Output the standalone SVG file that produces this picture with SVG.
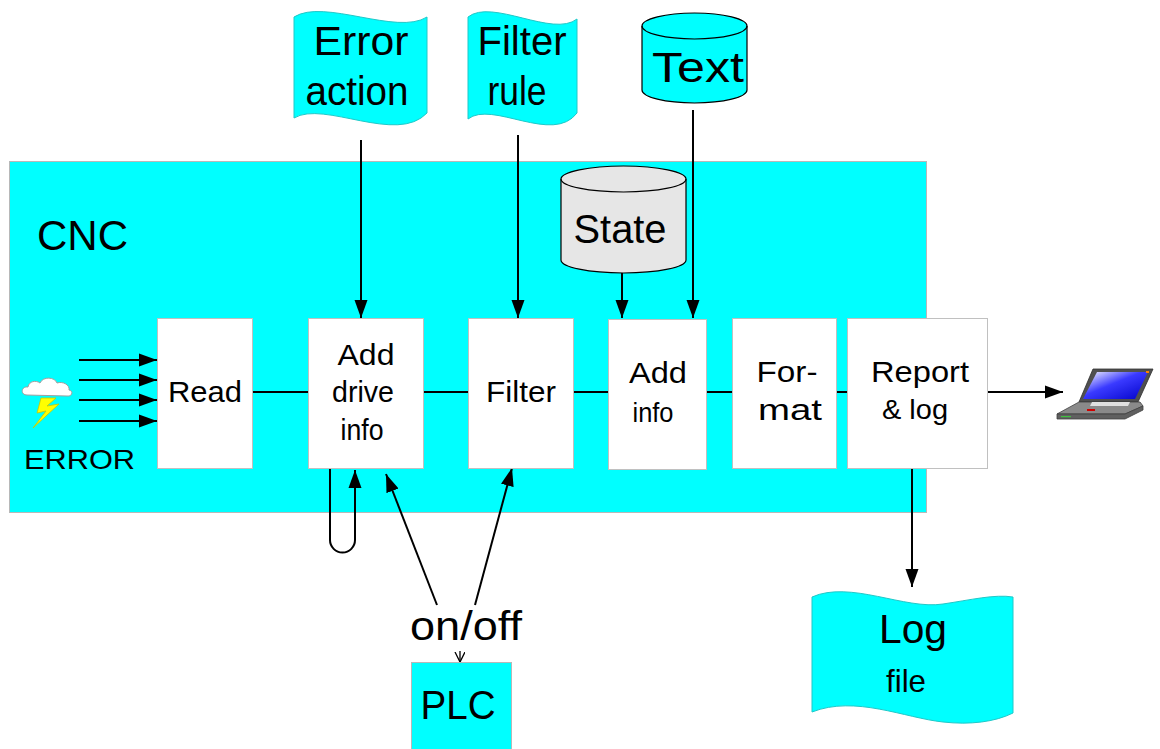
<svg xmlns="http://www.w3.org/2000/svg" width="1160" height="749" viewBox="0 0 1160 749">
<style>
text{font-family:"Liberation Sans",Arial,sans-serif;fill:#000}
.box{fill:#fff;stroke:#c0c0c0;stroke-width:1}
.doc{fill:#00ffff;stroke:#20c8c8;stroke-width:1}
.ln{stroke:#000;stroke-width:2;fill:none}
.ar{stroke:#000;stroke-width:2;fill:none;marker-end:url(#ah)}
.t28{font-size:28px}
.t30{font-size:30px}
.t40{font-size:40px}
</style>
<defs>
<marker id="ah" markerUnits="userSpaceOnUse" markerWidth="19" markerHeight="14" refX="18" refY="7" orient="auto">
<path d="M0,0.5 L18,7 L0,13.5 Z" fill="#000"/>
</marker>
<marker id="vh" markerUnits="userSpaceOnUse" markerWidth="12" markerHeight="12" refX="10" refY="5" orient="auto">
<path d="M0,0 L10,5 L0,10" fill="none" stroke="#000" stroke-width="1.3"/>
</marker>
<linearGradient id="scr" x1="0" y1="0" x2="1" y2="1">
<stop offset="0" stop-color="#ffffff"/>
<stop offset="0.45" stop-color="#3a3aff"/>
<stop offset="1" stop-color="#0000c8"/>
</linearGradient>
</defs>
<rect width="1160" height="749" fill="#fff"/>

<g id="cnc">
<rect x="9.5" y="161.5" width="917" height="351" fill="#00ffff" stroke="#b8b8b8" stroke-width="1"/>
<text x="37" y="250" font-size="42">CNC</text>
</g>

<g id="connectors">
<line class="ln" x1="253" y1="392" x2="308" y2="392"/>
<line class="ln" x1="423" y1="392" x2="468" y2="392"/>
<line class="ln" x1="573" y1="392" x2="608" y2="392"/>
<line class="ln" x1="706" y1="392" x2="732" y2="392"/>
<line class="ln" x1="836" y1="392" x2="847" y2="392"/>
<line class="ar" x1="987" y1="392" x2="1063" y2="392"/>
<line class="ar" x1="79" y1="360" x2="157" y2="360"/>
<line class="ar" x1="79" y1="380" x2="157" y2="380"/>
<line class="ar" x1="79" y1="400" x2="157" y2="400"/>
<line class="ar" x1="79" y1="421" x2="157" y2="421"/>
<line class="ar" x1="361" y1="140" x2="361" y2="318"/>
<line class="ar" x1="518" y1="135" x2="518" y2="318"/>
<line class="ar" x1="622" y1="273" x2="622" y2="318"/>
<line class="ar" x1="693" y1="110" x2="693" y2="318"/>
<path class="ar" d="M330,469 L330,540 A12.5,12.5 0 0 0 355,540 L355,470"/>
<line class="ar" x1="437" y1="605" x2="386" y2="474"/>
<line class="ar" x1="475" y1="605" x2="512" y2="468"/>
<line x1="460" y1="651" x2="460" y2="662" stroke="#000" stroke-width="1.3" marker-end="url(#vh)"/>
<line class="ar" x1="912" y1="468" x2="912" y2="587"/>
</g>

<g id="error">
<path d="M27,395 C20,395 21,386 28,387 C29,381 36,380 40,383 C43,376 55,377 57,383 C63,381 70,385 69,390 C74,391 72,397 67,396 Z" fill="#fff" stroke="#a0a0a0" stroke-width="1"/>
<polygon points="41,398 56,398 47,406 59,404 33,428 46,411 37,413" fill="#ffff00" stroke="#c8c800" stroke-width="0.8"/>
<text x="24" y="469" class="t28" textLength="111" lengthAdjust="spacingAndGlyphs">ERROR</text>
</g>

<g id="read">
<rect class="box" x="157.5" y="318.5" width="95" height="150"/>
<text x="205" y="402" class="t30" text-anchor="middle" textLength="74" lengthAdjust="spacingAndGlyphs">Read</text>
</g>

<g id="adddrive">
<rect class="box" x="308.5" y="318.5" width="115" height="150"/>
<text x="366" y="365" class="t30" text-anchor="middle" textLength="57" lengthAdjust="spacingAndGlyphs">Add</text>
<text x="363" y="402" class="t30" text-anchor="middle" textLength="62" lengthAdjust="spacingAndGlyphs">drive</text>
<text x="362" y="440" class="t30" text-anchor="middle" textLength="43" lengthAdjust="spacingAndGlyphs">info</text>
</g>

<g id="filter">
<rect class="box" x="468.5" y="318.5" width="105" height="150"/>
<text x="521" y="402" class="t30" text-anchor="middle" textLength="70" lengthAdjust="spacingAndGlyphs">Filter</text>
</g>

<g id="addinfo">
<rect class="box" x="608.5" y="319.5" width="98" height="150"/>
<text x="658" y="383" class="t30" text-anchor="middle" textLength="58" lengthAdjust="spacingAndGlyphs">Add</text>
<text x="653" y="422" class="t28" text-anchor="middle" textLength="41" lengthAdjust="spacingAndGlyphs">info</text>
</g>

<g id="format">
<rect class="box" x="732.5" y="318.5" width="104" height="150"/>
<text x="787" y="382" class="t30" text-anchor="middle" textLength="61" lengthAdjust="spacingAndGlyphs">For-</text>
<text x="790" y="420" class="t30" text-anchor="middle" textLength="64" lengthAdjust="spacingAndGlyphs">mat</text>
</g>

<g id="report">
<rect class="box" x="847.5" y="318.5" width="140" height="150"/>
<text x="920" y="382" class="t30" text-anchor="middle" textLength="98" lengthAdjust="spacingAndGlyphs">Report</text>
<text x="915" y="419" class="t28" text-anchor="middle" textLength="66" lengthAdjust="spacingAndGlyphs">&amp; log</text>
</g>

<g id="erroraction">
<path class="doc" d="M294,17 C324,-2 397,36 427,17 L427,113 C397,145 324,100 294,118 Z"/>
<text x="361" y="55" class="t40" text-anchor="middle" textLength="95" lengthAdjust="spacingAndGlyphs">Error</text>
<text x="357" y="105" class="t40" text-anchor="middle" textLength="103" lengthAdjust="spacingAndGlyphs">action</text>
</g>

<g id="filterrule">
<path class="doc" d="M468,17 C492,-2 553,38 577,19 L577,113 C553,145 492,100 468,119 Z"/>
<text x="522" y="55" class="t40" text-anchor="middle" textLength="89" lengthAdjust="spacingAndGlyphs">Filter</text>
<text x="517" y="105" class="t40" text-anchor="middle" textLength="59" lengthAdjust="spacingAndGlyphs">rule</text>
</g>

<g id="text">
<path d="M642,26 L642,90 A52.5,13 0 0 0 747,90 L747,26 A52.5,13 0 0 0 642,26 Z" fill="#00ffff" stroke="#000" stroke-width="1.2"/>
<path d="M642,26 A52.5,13 0 0 0 747,26" fill="none" stroke="#000" stroke-width="1.2"/>
<text x="698" y="82" font-size="42" text-anchor="middle" textLength="92" lengthAdjust="spacingAndGlyphs">Text</text>
</g>

<g id="state">
<path d="M561,179 L561,260 A62.5,13 0 0 0 686,260 L686,179 A62.5,13 0 0 0 561,179 Z" fill="#e6e6e6" stroke="#000" stroke-width="1.2"/>
<path d="M561,179 A62.5,13 0 0 0 686,179" fill="none" stroke="#000" stroke-width="1.2"/>
<text x="620" y="243" class="t40" text-anchor="middle" textLength="93" lengthAdjust="spacingAndGlyphs">State</text>
</g>

<g id="onoff">
<text x="466" y="640" class="t40" text-anchor="middle" textLength="112" lengthAdjust="spacingAndGlyphs">on/off</text>
</g>

<g id="plc">
<rect x="411.5" y="662.5" width="100" height="90" fill="#00ffff" stroke="#b8b8b8" stroke-width="1"/>
<text x="458" y="719" class="t40" text-anchor="middle" textLength="75" lengthAdjust="spacingAndGlyphs">PLC</text>
</g>

<g id="logfile">
<path class="doc" d="M812,597 C850,580 905,610 943,604 C970,600 995,594 1013,597 L1013,713 C995,722 970,725 943,722 C905,718 855,695 812,712 Z"/>
<text x="913" y="643" class="t40" text-anchor="middle" textLength="68" lengthAdjust="spacingAndGlyphs">Log</text>
<text x="906" y="692" font-size="32" text-anchor="middle" textLength="40" lengthAdjust="spacingAndGlyphs">file</text>
</g>

<g id="laptop">
<polygon points="1093,369 1153,369 1138,402 1079,402" fill="#505050" stroke="#303030" stroke-width="0.8"/>
<polygon points="1097,372 1148,372 1135,399 1083,399" fill="url(#scr)"/>
<rect x="1146" y="371" width="3" height="2" fill="#ff8000"/>
<polygon points="1079,402 1140,402 1143,406 1125,414 1057,414" fill="#8a8a8a" stroke="#404040" stroke-width="0.8"/>
<polygon points="1092,402 1130,402 1128,406 1090,406" fill="#e0e0e0"/>
<polygon points="1057,414 1125,414 1143,406 1143,410 1125,419 1057,419" fill="#606060" stroke="#404040" stroke-width="0.8"/>
<rect x="1087" y="409" width="8" height="2" fill="#d00000"/>
<rect x="1061" y="416" width="10" height="1.2" fill="#40c040"/>
</g>
</svg>
